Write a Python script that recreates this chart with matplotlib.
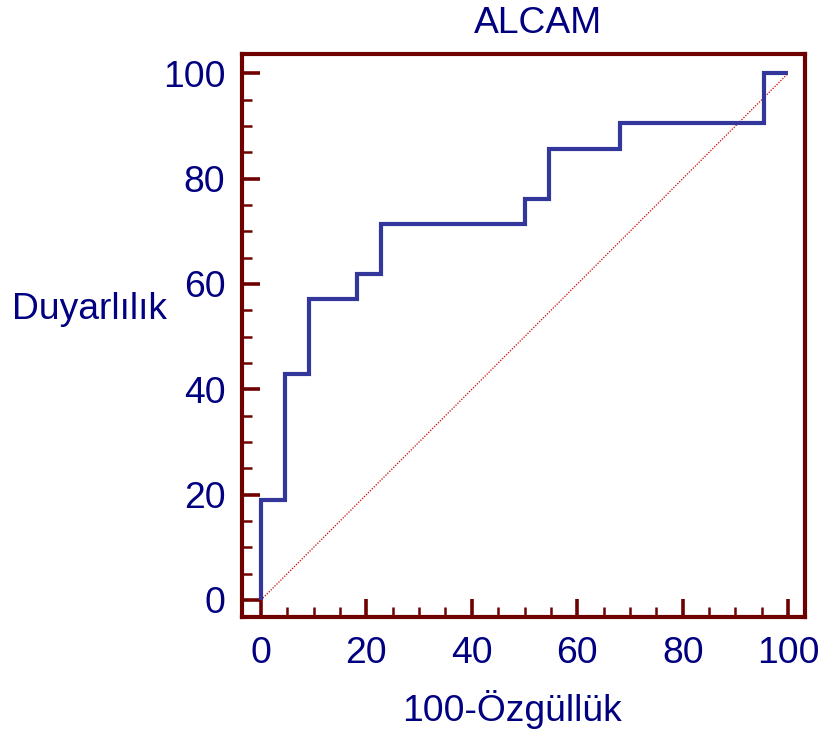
import matplotlib
matplotlib.use("Agg")
import matplotlib.pyplot as plt
from matplotlib.ticker import MultipleLocator

# ROC data (100-Specificity vs Sensitivity), corner points of the step curve
fpr = [0, 0, 4.55, 9.09, 18.18, 22.73, 50.0, 54.55, 68.18, 95.45, 100]
tpr = [0, 19.05, 42.86, 57.14, 61.90, 71.43, 76.19, 85.71, 90.48, 100, 100]
diag = [0, 100]

title = "ALCAM"
xlabel = "100-Özgüllük"
ylabel = "Duyarlılık"
ticks = [0, 20, 40, 60, 80, 100]

plt.rcParams['font.family'] = ['Liberation Sans', 'DejaVu Sans']
navy = "#000080"
spine_col = "#6e0000"
fs = 26.8

fig = plt.figure(figsize=(8.21, 7.33), dpi=100)
ax = fig.add_axes([0.2948, 0.1583, 0.6857, 0.7680])

ax.plot(diag, diag, color="#cc0000", lw=0.9, ls=(0, (1, 1.2)))
ax.plot(fpr, tpr, drawstyle="steps-post", color="#33379c", lw=3.0,
        solid_joinstyle="miter", solid_capstyle="butt")

ax.set_xlim(-3.6, 103.2)
ax.set_ylim(-3.23, 103.67)

ax.set_xticks(ticks)
ax.set_yticks(ticks)
ax.xaxis.set_minor_locator(MultipleLocator(5))
ax.yaxis.set_minor_locator(MultipleLocator(5))

for s in ax.spines.values():
    s.set_color(spine_col)
    s.set_linewidth(3)

ax.tick_params(which="major", direction="in", length=13, width=2.6,
               color=spine_col, labelsize=fs, labelcolor=navy, pad=12,
               top=False, right=False)
ax.tick_params(which="minor", direction="in", length=7, width=1.8,
               color=spine_col, top=False, right=False)
ax.tick_params(axis="x", which="major", pad=14)

fig.text(537.5 / 821, 1 - 33 / 733, title, ha="center", va="baseline",
         fontsize=fs, color=navy)
fig.text(511.5 / 821, 1 - 720.7 / 733, xlabel, ha="center", va="baseline",
         fontsize=fs, color=navy)
fig.text(89 / 821, 1 - 319.3 / 733, ylabel, ha="center", va="baseline",
         fontsize=fs, color=navy)

fig.savefig("out.png", dpi=100)
